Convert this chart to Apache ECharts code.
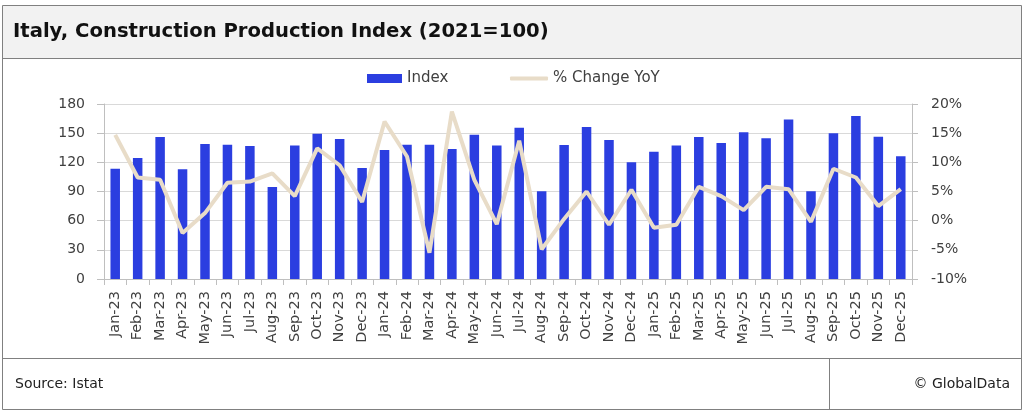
<!DOCTYPE html>
<html>
<head>
<meta charset="utf-8">
<script src="https://cdn.jsdelivr.net/npm/echarts@6/dist/echarts.min.js"></script>
<style>
html,body{margin:0;padding:0;background:#fff;}
#c{width:1024px;height:416px;}
</style>
</head>
<body>
<div id="c"></div>
<script>
const categories = ['Jan-23','Feb-23','Mar-23','Apr-23','May-23','Jun-23','Jul-23','Aug-23','Sep-23','Oct-23','Nov-23','Dec-23',
'Jan-24','Feb-24','Mar-24','Apr-24','May-24','Jun-24','Jul-24','Aug-24','Sep-24','Oct-24','Nov-24','Dec-24',
'Jan-25','Feb-25','Mar-25','Apr-25','May-25','Jun-25','Jul-25','Aug-25','Sep-25','Oct-25','Nov-25','Dec-25'];
const indexValues = [113.5,124.5,146,112.8,138.9,138.2,136.8,94.6,137.2,149.5,144,114.2,
132.7,138.2,138.2,133.7,148.5,137.2,155.7,90.2,137.9,156.4,143,120,
131,137.2,146,140,151,144.7,164,90.2,149.9,167.7,146.4,126.2];
const yoyValues = [14.7,7.4,7.0,-2.1,1.3,6.5,6.7,8.1,4.2,12.4,9.5,3.2,
17.0,11.0,-5.5,18.7,7.0,-0.6,13.7,-4.9,0.3,5.0,-0.7,5.3,
-1.2,-0.7,5.8,4.2,1.8,5.8,5.4,-0.2,8.9,7.4,2.5,5.4];
const titleText = 'Italy, Construction Production Index (2021=100)';
const sourceText = 'Source: Istat';
const creditText = '© GlobalData';

const FONT = '"DejaVu Sans", sans-serif';
const TXT = '#404040';
const chart = echarts.init(document.getElementById('c'));
chart.setOption({
  animation: false,
  textStyle: {fontFamily: FONT},
  graphic: [
    {type:'rect', shape:{x:2.5,y:5.5,width:1019,height:404}, style:{fill:'#fff', stroke:'#808080', lineWidth:1}, z:-10},
    {type:'rect', shape:{x:3,y:6,width:1018,height:52}, style:{fill:'#f2f2f2'}, z:-9},
    {type:'line', shape:{x1:2,y1:58.5,x2:1022,y2:58.5}, style:{stroke:'#808080', lineWidth:1}, z:-8},
    {type:'line', shape:{x1:2,y1:358.5,x2:1022,y2:358.5}, style:{stroke:'#808080', lineWidth:1}, z:-8},
    {type:'line', shape:{x1:829.5,y1:358,x2:829.5,y2:410}, style:{stroke:'#808080', lineWidth:1}, z:-8},
    {type:'text', left:13, top:22, style:{text:titleText, font:'bold 19.6px '+FONT, fill:'#111'}},
    {type:'text', left:15, top:377, style:{text:sourceText, font:'14px '+FONT, fill:'#222'}},
    {type:'text', right:14, top:377, style:{text:creditText, font:'14px '+FONT, fill:'#222', align:'right'}}
  ],
  legend: [
    {left: 367, top: 71, itemWidth: 35, itemHeight: 9, padding: 0,
     textStyle: {fontSize: 15, color: TXT, fontFamily: FONT},
     data: [{name:'Index', icon:'rect'}]},
    {left: 510, top: 71, itemWidth: 38, itemHeight: 4, padding: 0,
     textStyle: {fontSize: 15, color: TXT, fontFamily: FONT},
     data: [{name:'% Change YoY', icon:'roundRect', itemStyle: {color: '#e8dcc8'}}]}
  ],
  grid: {left: 104, right: 112, top: 104, bottom: 137, containLabel: false},
  xAxis: {
    type: 'category', data: categories, boundaryGap: true,
    axisLine: {lineStyle: {color: '#bfbfbf'}},
    axisTick: {show: true, alignWithLabel: false, length: 6, lineStyle: {color: '#bfbfbf'}},
    axisLabel: {rotate: 90, interval: 0, fontSize: 14.5, color: TXT, margin: 12, fontFamily: FONT}
  },
  yAxis: [
    {type: 'value', min: 0, max: 180, interval: 30, position: 'left',
     axisLine: {show: true, lineStyle: {color: '#bfbfbf'}},
     axisTick: {show: true, length: 7, lineStyle: {color: '#bfbfbf'}},
     splitLine: {lineStyle: {color: '#d9d9d9'}},
     axisLabel: {fontSize: 14, color: TXT, margin: 19, fontFamily: FONT}},
    {type: 'value', min: -10, max: 20, interval: 5, position: 'right',
     axisLine: {show: true, lineStyle: {color: '#bfbfbf'}},
     axisTick: {show: true, length: 6, lineStyle: {color: '#bfbfbf'}},
     splitLine: {show: false},
     axisLabel: {fontSize: 14, color: TXT, margin: 19, formatter: '{value}%', fontFamily: FONT}}
  ],
  series: [
    {name: 'Index', type: 'bar', data: indexValues, yAxisIndex: 0, barWidth: 9.5,
     itemStyle: {color: '#2b3ee0'}},
    {name: '% Change YoY', type: 'line', data: yoyValues, yAxisIndex: 1,
     symbol: 'none', lineStyle: {color: '#e8dcc8', width: 4}, itemStyle: {color: '#e8dcc8'}}
  ]
});
</script>
</body>
</html>
